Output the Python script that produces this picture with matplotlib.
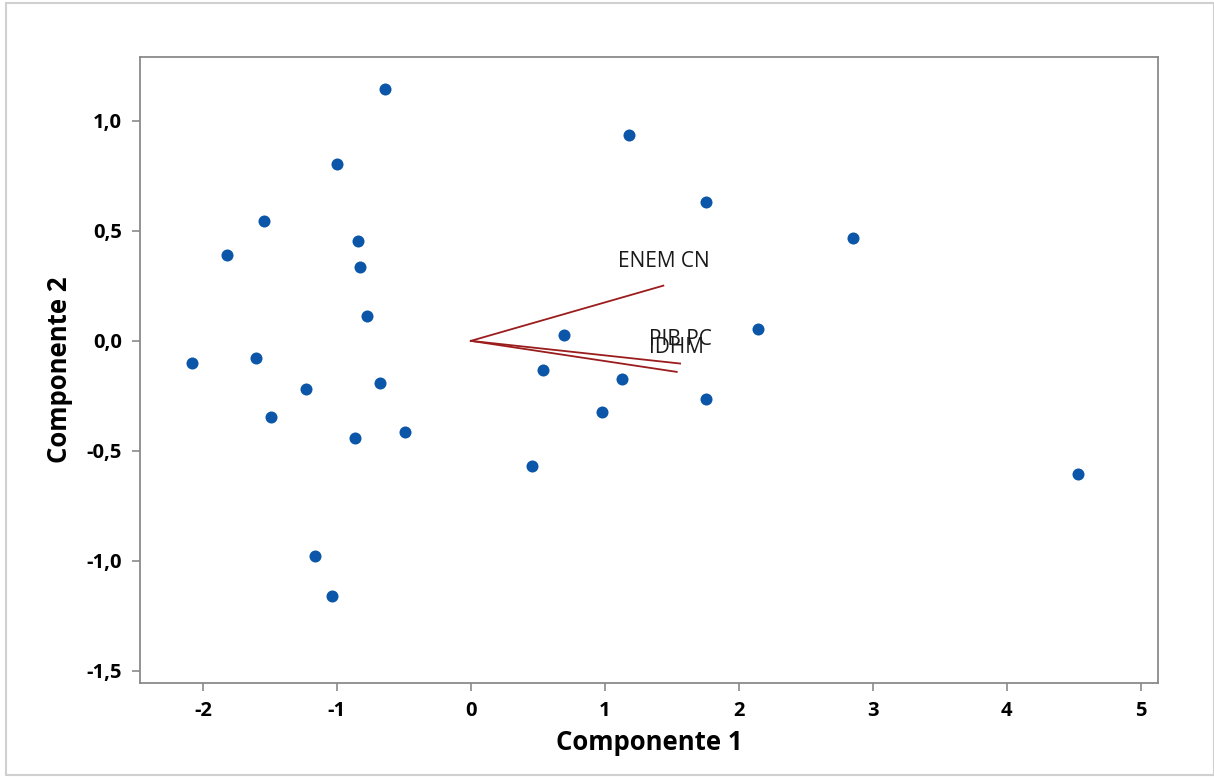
import numpy as np
import matplotlib.pyplot as plt
from matplotlib.ticker import FuncFormatter, MultipleLocator
from matplotlib.patches import Rectangle

plt.rcParams['font.family'] = ['Open Sans', 'DejaVu Sans']
plt.rcParams['axes.unicode_minus'] = False

# scores (Componente 1, Componente 2)
comp1 = [-0.643, 1.181, -1.001, 1.756, -1.547, 2.855, -1.824, -0.845, -0.830,
         -0.777, 0.695, 2.145, -2.085, -1.607, 0.538, 1.129, -0.680, -1.233,
         1.756, -1.495, 0.979, -0.493, -0.867, 0.456, 4.529, -1.166, -1.039]
comp2 = [1.145, 0.936, 0.805, 0.632, 0.545, 0.468, 0.391, 0.455, 0.336,
         0.114, 0.027, 0.055, -0.100, -0.077, -0.132, -0.173, -0.191, -0.218,
         -0.264, -0.345, -0.323, -0.414, -0.441, -0.568, -0.605, -0.977, -1.159]

# loadings
var_names = ['ENEM CN', 'PIB PC', 'IDHM']
load1 = [1.437, 1.562, 1.537]
load2 = [0.251, -0.103, -0.141]


def main():
    fig = plt.figure(figsize=(12.14, 7.78), dpi=100)
    fig.patches.append(Rectangle((0.005, 0.004), 0.995, 0.992, transform=fig.transFigure,
                                 fill=False, edgecolor='#d0d0d0', linewidth=1.5))
    ax = fig.add_axes([0.1153, 0.1221, 0.8386, 0.8046])

    ax.scatter(comp1, comp2, s=75, color='#0b56a8', zorder=3, linewidths=0)

    for name, lx, ly in zip(var_names, load1, load2):
        ax.plot([0, lx], [0, ly], color='#9b1c1c', linewidth=1.3, zorder=2)
        ax.annotate(name, (lx, ly), xytext=(0, 10), textcoords='offset points',
                    ha='center', va='bottom', fontsize=15, color='#1a1a1a')

    ax.set_xlim(-2.47, 5.13)
    ax.set_ylim(-1.555, 1.29)
    ax.xaxis.set_major_locator(MultipleLocator(1))
    ax.yaxis.set_major_locator(MultipleLocator(0.5))
    ax.xaxis.set_major_formatter(FuncFormatter(lambda v, p: f'{v:.0f}'))
    ax.yaxis.set_major_formatter(FuncFormatter(lambda v, p: f'{v:.1f}'.replace('.', ',')))

    for sp in ax.spines.values():
        sp.set_color('#8a8a8a')
        sp.set_linewidth(1.3)
    ax.tick_params(direction='out', length=6, width=1.2, color='#8a8a8a',
                   labelsize=14.5, pad=7)
    for lab in ax.get_xticklabels() + ax.get_yticklabels():
        lab.set_fontweight('bold')

    ax.set_xlabel('Componente 1', fontsize=18.5, fontweight='bold', labelpad=6)
    ax.set_ylabel('Componente 2', fontsize=18.5, fontweight='bold', labelpad=10)

    plt.savefig('out.png', dpi=100)
    plt.close()


if __name__ == '__main__':
    main()
